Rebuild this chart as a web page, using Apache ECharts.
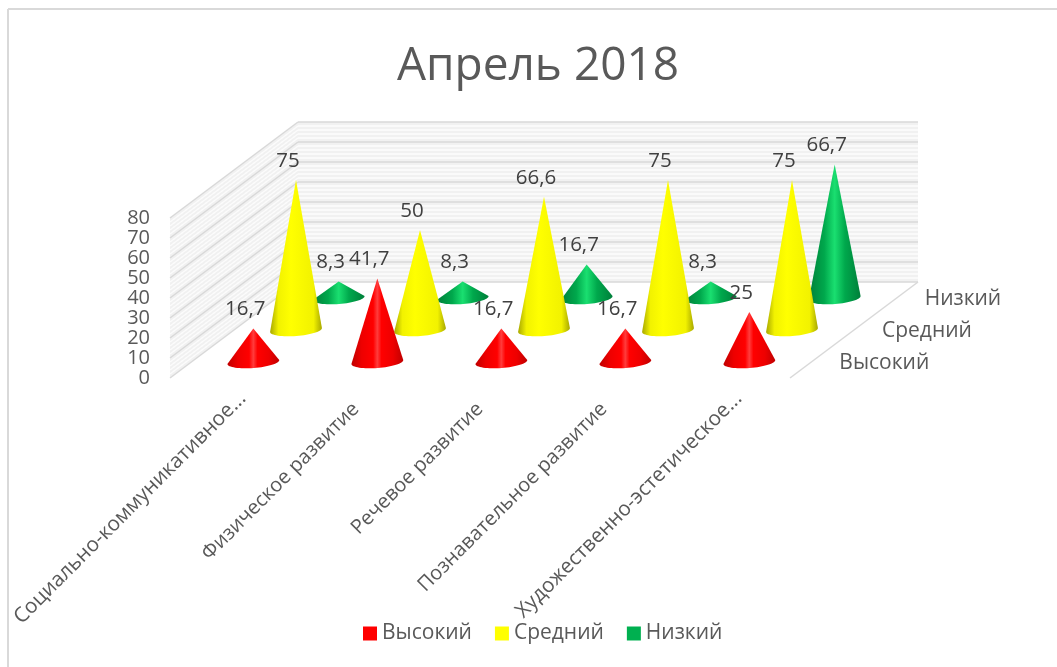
<!DOCTYPE html>
<html>
<head>
<meta charset="utf-8">
<style>html,body{margin:0;padding:0;background:#fff}#main{width:1057px;height:667px}</style>
<script src="https://cdn.jsdelivr.net/npm/echarts@6/dist/echarts.min.js"></script>
</head>
<body>
<div id="main"></div>
<script>
const categories = ['Социально-коммуникативное...', 'Физическое развитие', 'Речевое развитие', 'Познавательное развитие', 'Художественно-эстетическое...'];
const seriesNames = ['Высокий', 'Средний', 'Низкий'];
const high = [16.7, 41.7, 16.7, 16.7, 25];
const medium = [75, 50, 66.6, 75, 75];
const low = [8.3, 8.3, 16.7, 8.3, 66.7];
const labelsHigh = ['16,7', '41,7', '16,7', '16,7', '25'];
const labelsMedium = ['75', '50', '66,6', '75', '75'];
const labelsLow = ['8,3', '8,3', '16,7', '8,3', '66,7'];
const gridTicks = [0, 10, 20, 30, 40, 50, 60, 70, 80];

// глубина пола в пикселях
const DX = 128, DY = -96;
const FONT = '"Open Sans", sans-serif';

const chart = echarts.init(document.getElementById('main'));

function gradient(stops) {
  return new echarts.graphic.LinearGradient(0, 0, 1, 0, stops.map(s => ({ offset: s[0], color: s[1] })));
}

// конус: вершина + нижняя дуга эллипса основания
function coneSeries(name, values, labels, row, z, color, fill) {
  const depth = (row + 0.5) / 3;
  return {
    name: name,
    type: 'custom',
    z: z,
    itemStyle: { color: color },
    encode: { x: 0, y: 1 },
    data: values.map((v, i) => [i, v]),
    renderItem: function (params, api) {
      const tip = api.coord([api.value(0), api.value(1)]);
      const base = api.coord([api.value(0), 0]);
      const cx = base[0] + DX * depth, cy = base[1] + DY * depth;
      const tx = tip[0] + DX * depth, ty = tip[1] + DY * depth;
      const rx = 26, ry = 6, a = -4.5 * Math.PI / 180;
      const pts = [[tx, ty]];
      for (let k = 0; k <= 32; k++) {
        const t = Math.PI * k / 32;
        pts.push([
          cx + rx * Math.cos(t) * Math.cos(a) - ry * Math.sin(t) * Math.sin(a),
          cy + rx * Math.cos(t) * Math.sin(a) + ry * Math.sin(t) * Math.cos(a)
        ]);
      }
      return {
        type: 'group',
        children: [
          { type: 'polygon', shape: { points: pts }, style: { fill: fill } },
          {
            type: 'text', z2: 100,
            style: {
              x: tx - 8, y: ty - 19, text: labels[params.dataIndex],
              fill: '#404040', font: '20.5px ' + FONT, align: 'center', verticalAlign: 'middle'
            }
          }
        ]
      };
    }
  };
}

// стенки и пол
const wallSeries = {
  name: 'walls',
  type: 'custom',
  z: 1,
  silent: true,
  encode: { y: 1 },
  data: gridTicks.map(v => [0, v]),
  renderItem: function (params, api) {
    const v = api.value(1);
    const cs = params.coordSys;
    const y0 = api.coord([0, v])[1];
    const x0 = cs.x, x1 = x0 + DX, y1 = y0 + DY, x2 = cs.x + cs.width + DX;
    const line = (xa, ya, xb, yb, stroke, w) => ({
      type: 'line', shape: { x1: xa, y1: ya, x2: xb, y2: yb }, style: { stroke: stroke, lineWidth: w }
    });
    const kids = [];
    if (params.dataIndex < gridTicks.length - 1) {
      const h = api.coord([0, gridTicks[params.dataIndex + 1]])[1] - y0;
      kids.push({ type: 'polygon', shape: { points: [[x0, y0], [x1, y1], [x1, y1 + h], [x0, y0 + h]] }, style: { fill: '#f1f1f1' } });
      kids.push({ type: 'rect', shape: { x: x1, y: y1 + h, width: x2 - x1, height: -h }, style: { fill: '#f1f1f1' } });
      for (let s = 1; s < 5; s++) {
        const yy = s * h / 5;
        kids.push(line(x0, y0 + yy, x1, y1 + yy, '#fcfcfc', 1.5));
        kids.push(line(x1, y1 + yy, x2, y1 + yy, '#fcfcfc', 1.5));
      }
    }
    kids.push(line(x0, y0, x1, y1, '#d9d9d9', 1.5));
    kids.push(line(x1, y1, x2, y1, '#d9d9d9', 1.5));
    if (params.dataIndex === 0) {
      const xr = cs.x + cs.width;
      kids.push(line(xr, y0, x2, y1, '#d9d9d9', 1.5));
      seriesNames.forEach((n, i) => {
        const d = (i + 0.5) / 3;
        kids.push({
          type: 'text',
          style: {
            x: xr + DX * d + 28, y: y0 + DY * d + 1, text: n,
            fill: '#595959', font: '21px ' + FONT, align: 'left', verticalAlign: 'middle'
          }
        });
      });
    }
    return { type: 'group', children: kids };
  }
};

chart.setOption({
  animation: false,
  backgroundColor: '#fff',
  title: {
    text: 'Апрель 2018', left: 533, top: 39, textAlign: 'center',
    textStyle: { color: '#595959', fontFamily: FONT, fontSize: 46, fontWeight: 'normal' }
  },
  legend: {
    data: seriesNames, left: 358, top: 618, icon: 'rect',
    itemWidth: 14, itemHeight: 14, itemGap: 23,
    textStyle: { color: '#595959', fontFamily: FONT, fontSize: 21 }
  },
  grid: { left: 170, top: 218, width: 620, height: 160, outerBoundsMode: 'none' },
  xAxis: {
    type: 'category',
    // обрезанные подписи в оригинале чуть длиннее и сдвинуты вдоль наклона
    data: categories.map(c => c.endsWith('...') ? { value: c, textStyle: { fontSize: 20.6, padding: [0, -15, 0, 0] } } : c),
    axisLine: { show: false }, axisTick: { show: false },
    axisLabel: { rotate: 45, color: '#595959', fontFamily: FONT, fontSize: 20, margin: 28, interval: 0, hideOverlap: false }
  },
  yAxis: {
    type: 'value', min: 0, max: 80, interval: 10,
    axisLine: { show: false }, axisTick: { show: false }, splitLine: { show: false },
    axisLabel: { color: '#595959', fontFamily: FONT, fontSize: 20, padding: [2, 0, -2, 0], margin: 20 }
  },
  graphic: [
    { type: 'line', shape: { x1: 8, y1: 9, x2: 8, y2: 667 }, style: { stroke: '#d9d9d9', lineWidth: 2 } },
    { type: 'line', shape: { x1: 8, y1: 9, x2: 1057, y2: 9 }, style: { stroke: '#d9d9d9', lineWidth: 2 } }
  ],
  series: [
    wallSeries,
    coneSeries(seriesNames[2], low, labelsLow, 2, 3, '#00b050', gradient([[0, '#007f3a'], [0.3, '#00a84c'], [0.5, '#1adf70'], [0.7, '#00a84c'], [1, '#007f3a']])),
    coneSeries(seriesNames[1], medium, labelsMedium, 1, 4, '#ffff00', gradient([[0, '#a8a800'], [0.16, '#f2f200'], [0.4, '#ffff00'], [0.84, '#f2f200'], [1, '#a8a800']])),
    coneSeries(seriesNames[0], high, labelsHigh, 0, 5, '#ff0000', gradient([[0, '#c00000'], [0.2, '#ee0000'], [0.42, '#ff0000'], [0.5, '#ff3c3c'], [0.58, '#ff0000'], [0.8, '#ee0000'], [1, '#c00000']]))
  ]
});
</script>
</body>
</html>
